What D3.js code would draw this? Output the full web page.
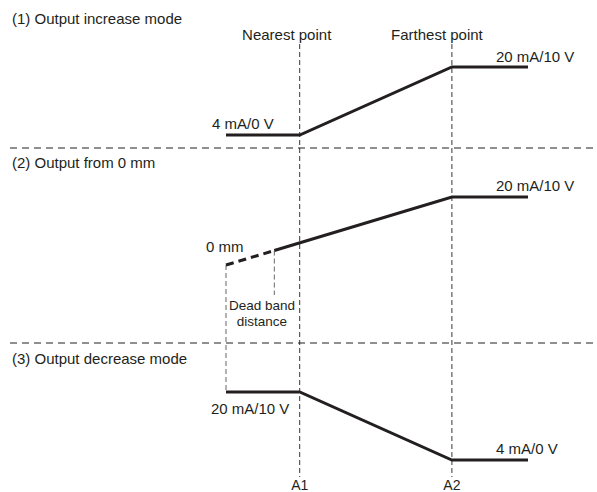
<!DOCTYPE html>
<html>
<head>
<meta charset="utf-8">
<script src="https://cdn.jsdelivr.net/npm/d3@7"></script>
<style>
  html, body { margin: 0; padding: 0; background: #fff; }
  svg { display: block; font-family: "Liberation Sans", Arial, Helvetica, sans-serif; }
</style>
</head>
<body>
<svg id="chart" width="597" height="492"></svg>
<script>
// ---- Data ----
// distance positions (arbitrary distance units along the sensing axis)
const positionNames = ["0 mm", "Dead band", "A1", "A2", "End"];
const positionValues = [0, 2, 3.05, 9.35, 12.5];

// panel titles
const panelTitles = ["(1) Output increase mode", "(2) Output from 0 mm", "(3) Output decrease mode"];

// output curves (mA) at positions
const increaseX = [0, 3.05, 9.35, 12.5];
const increaseY = [4, 4, 20, 20];

const fromZeroDashX = [0, 2];
const fromZeroDashY = [4, 7.4];
const fromZeroSolidX = [2, 9.35, 12.5];
const fromZeroSolidY = [7.4, 20, 20];

const decreaseX = [0, 3.05, 9.35, 12.5];
const decreaseY = [20, 20, 4, 4];

const axisLabels = ["A1", "A2"];
const pointLabels = ["Nearest point", "Farthest point"];

// ---- Layout ----
const svg = d3.select("#chart");
const ink = "#231f20";

const x = d3.scaleLinear().domain([0, 12.5]).range([226, 528]);
// one y scale per panel (value in mA -> pixel)
const panelBase = [135, 265, 460];
const yScales = panelBase.map(b => d3.scaleLinear().domain([4, 20]).range([b, b - 68]));

const xA1 = x(positionValues[2]);
const xA2 = x(positionValues[3]);
const xZero = x(positionValues[0]);
const xDead = x(positionValues[1]);

// panel separators
[148, 343].forEach(yy => {
  svg.append("line")
    .attr("x1", 10).attr("x2", 597).attr("y1", yy).attr("y2", yy)
    .attr("stroke", ink).attr("stroke-width", 1.1)
    .attr("stroke-dasharray", "7,5");
});

// A1 / A2 vertical dashed lines
[xA1, xA2].forEach(xx => {
  svg.append("line")
    .attr("x1", xx).attr("x2", xx).attr("y1", 44).attr("y2", 477)
    .attr("stroke", ink).attr("stroke-width", 0.9)
    .attr("stroke-dasharray", "5,3");
});

// 0 mm vertical (from panel 2 start down to panel 3 line)
svg.append("line")
  .attr("x1", xZero).attr("x2", xZero)
  .attr("y1", yScales[1](fromZeroDashY[0])).attr("y2", yScales[2](decreaseY[0]))
  .attr("stroke", "#555").attr("stroke-width", 0.9)
  .attr("stroke-dasharray", "5,3");

// dead band vertical
svg.append("line")
  .attr("x1", xDead).attr("x2", xDead)
  .attr("y1", yScales[1](fromZeroDashY[1])).attr("y2", 295)
  .attr("stroke", "#555").attr("stroke-width", 0.9)
  .attr("stroke-dasharray", "5,3");

// curves
function curve(xs, ys, yScale, dash) {
  const pts = xs.map((v, i) => [x(v), yScale(ys[i])]);
  const p = svg.append("path")
    .attr("d", d3.line()(pts))
    .attr("fill", "none")
    .attr("stroke", ink)
    .attr("stroke-width", 3)
    .attr("stroke-linejoin", "miter");
  if (dash) p.attr("stroke-dasharray", dash);
}
curve(increaseX, increaseY, yScales[0]);
curve(fromZeroDashX, fromZeroDashY, yScales[1], "8,5");
curve(fromZeroSolidX, fromZeroSolidY, yScales[1]);
curve(decreaseX, decreaseY, yScales[2]);

// text helper
function txt(s, xx, yy, anchor, size) {
  svg.append("text")
    .attr("x", xx).attr("y", yy)
    .attr("text-anchor", anchor || "start")
    .attr("font-size", size || 15)
    .attr("fill", ink)
    .text(s);
}

// titles
[24, 168, 364].forEach((yy, i) => txt(panelTitles[i], 12, yy));

// point labels
txt(pointLabels[0], xA1 - 13, 40, "middle");
txt(pointLabels[1], xA2 - 15, 40, "middle");

// output labels
txt("4 mA/0 V", 212, 129);
txt("20 mA/10 V", 496, 62);
txt("20 mA/10 V", 496, 191);
txt("0 mm", 206, 252);
txt("Dead band", 262, 310, "middle", 13.5);
txt("distance", 262, 326, "middle", 13.5);
txt("20 mA/10 V", 211, 414);
txt("4 mA/0 V", 496, 454);

// axis labels
txt(axisLabels[0], xA1, 490, "middle", 14);
txt(axisLabels[1], xA2, 490, "middle", 14);
</script>
</body>
</html>
